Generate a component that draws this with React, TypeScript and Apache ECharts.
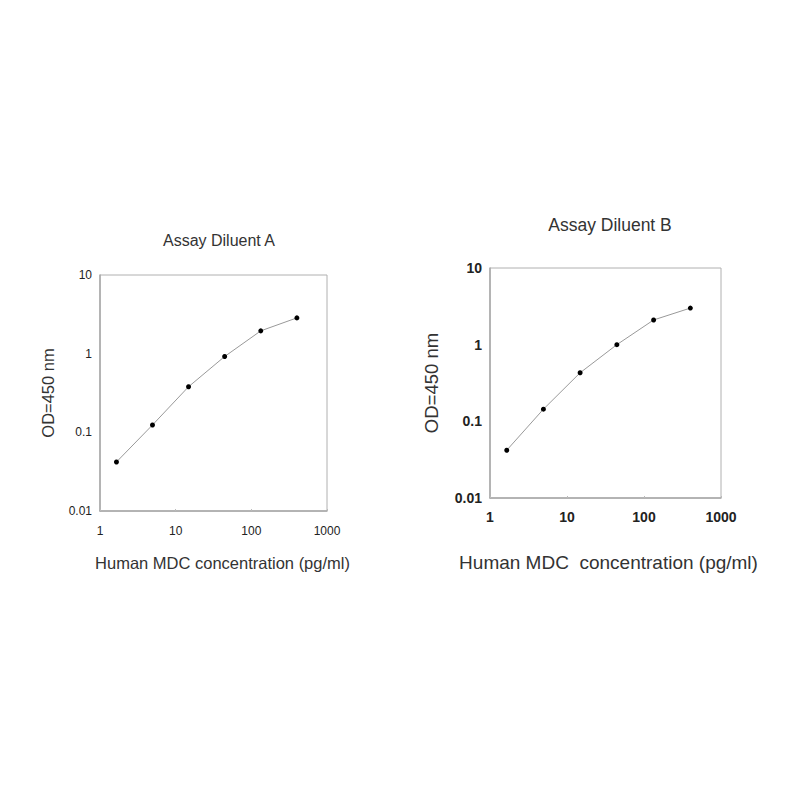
import React, { useEffect, useRef } from "react";
import * as echarts from "echarts";

const concentrations = [1.65, 4.94, 14.8, 44.4, 133.3, 400];
const odDiluentA = [0.042, 0.124, 0.38, 0.92, 1.95, 2.85];
const odDiluentB = [0.042, 0.144, 0.43, 1.0, 2.1, 3.0];
const titles = ["Assay Diluent A", "Assay Diluent B"];
const xNames = ["Human MDC concentration (pg/ml)", "Human MDC  concentration (pg/ml)"];
const yName = "OD=450 nm";

const FONT = "'Liberation Sans', Arial, sans-serif";

const App: React.FC = () => {
  const chartRef = useRef<HTMLDivElement>(null);

  useEffect(() => {
    const myChart = echarts.init(chartRef.current as HTMLDivElement, undefined, {
      renderer: "svg",
    });

    const makeX = (idx: number, fontSize: number, bold: boolean, nameSize: number, nameGap: number, margin: number, shift: number) => ({
      type: "log" as const,
      gridIndex: idx,
      logBase: 10,
      min: 1,
      max: 1000,
      name: xNames[idx],
      nameLocation: "middle" as const,
      nameGap,
      nameTextStyle: {
        fontFamily: FONT,
        fontSize: nameSize,
        color: "#333",
        padding: [0, 0, 0, shift * 2],
      },
      axisLine: { lineStyle: { color: "#a8a8a8", width: 1.5 } },
      axisTick: { show: true, inside: true, length: 2, lineStyle: { color: "#bbb" } },
      minorTick: { show: false },
      splitLine: { show: false },
      axisLabel: {
        fontFamily: FONT,
        fontSize,
        fontWeight: bold ? ("bold" as const) : ("normal" as const),
        color: "#222",
        margin,
        formatter: (v: number) => String(v),
      },
    });

    const makeY = (idx: number, fontSize: number, bold: boolean, nameSize: number, nameGap: number, margin: number) => ({
      type: "log" as const,
      gridIndex: idx,
      logBase: 10,
      min: 0.01,
      max: 10,
      name: yName,
      nameLocation: "middle" as const,
      nameGap,
      nameTextStyle: { fontFamily: FONT, fontSize: nameSize, color: "#333" },
      axisLine: { show: true, lineStyle: { color: "#a8a8a8", width: 1.5 } },
      axisTick: { show: false },
      splitLine: { show: false },
      axisLabel: {
        fontFamily: FONT,
        fontSize,
        fontWeight: bold ? ("bold" as const) : ("normal" as const),
        color: "#222",
        margin,
        formatter: (v: number) => String(v),
      },
    });

    const lineSeries = (idx: number, values: number[]) => ({
      type: "line" as const,
      xAxisIndex: idx,
      yAxisIndex: idx,
      data: concentrations.map((c, i) => [c, values[i]]),
      symbol: "circle",
      symbolSize: 5,
      itemStyle: { color: "#000" },
      lineStyle: { color: "#999", width: 1 },
    });

    const option: echarts.EChartsOption = {
      animation: false,
      backgroundColor: "#fff",
      title: [
        {
          text: titles[0],
          left: 214,
          top: 227,
          textAlign: "center",
          textStyle: { fontFamily: FONT, fontSize: 16, fontWeight: "normal", color: "#333" },
        },
        {
          text: titles[1],
          left: 605,
          top: 211,
          textAlign: "center",
          textStyle: { fontFamily: FONT, fontSize: 17.5, fontWeight: "normal", color: "#333" },
        },
      ],
      grid: [
        { left: 100, top: 275, width: 227, height: 236, show: true, borderColor: "#b0b0b0", borderWidth: 1 },
        { left: 490, top: 268, width: 231, height: 230, show: true, borderColor: "#b0b0b0", borderWidth: 1 },
      ],
      xAxis: [makeX(0, 12, false, 16.5, 43, 14, 9), makeX(1, 14, true, 19, 55, 12, 3)],
      yAxis: [makeY(0, 12, false, 16.5, 44, 8), makeY(1, 14, true, 18.5, 49, 8)],
      series: [lineSeries(0, odDiluentA), lineSeries(1, odDiluentB)],
    };

    myChart.setOption(option);

    return () => {
      myChart.dispose();
    };
  }, []);

  return (
    <div
      ref={chartRef}
      style={{ position: "absolute", left: 0, top: 0, width: "800px", height: "800px" }}
    />
  );
};

export default App;
